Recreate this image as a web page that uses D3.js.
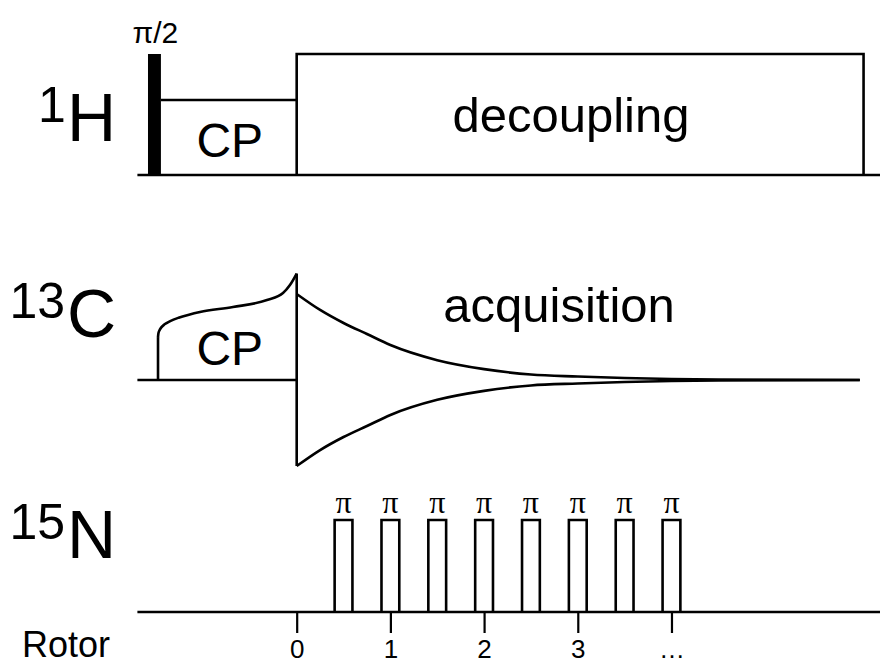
<!DOCTYPE html>
<html>
<head>
<meta charset="utf-8">
<script src="https://cdn.jsdelivr.net/npm/d3@7"></script>
<style>
  html, body { margin: 0; padding: 0; background: #fff; }
  svg { display: block; }
  text { font-family: "Liberation Sans", Arial, Helvetica, sans-serif; fill: #000; }
</style>
</head>
<body>
<svg id="seq" width="880" height="664"></svg>
<script>
// Time axis in rotor periods, RF amplitude in relative units (1 = full decoupling power)
const timeExtent = [-1.7, 6.25];
const rotorTicks = [0, 1, 2, 3, 4];
const rotorTickLabels = ["0", "1", "2", "3", "\u2026"];

// 1H channel: pi/2 excitation, CP spin lock, decoupling during acquisition
const hPulseSpan = [-1.587, -1.449];
const hPulseAmp = 1.0;
const hCPSpan = [-1.449, 0];
const hCPAmp = 0.62;
const hDecSpan = [0, 6.05];
const hDecAmp = 1.0;

// 13C channel: ramped CP contact, then FID envelope during acquisition
const cRampTimes = [-1.48, -1.476, -1.465, -1.445, -1.41, -1.35, -1.26, -1.15, -1.032, -0.68, -0.317, -0.146, -0.072, 0];
const cRampAmps  = [0.355, 0.385, 0.41, 0.435, 0.46, 0.487, 0.515, 0.54, 0.562, 0.603, 0.661, 0.719, 0.785, 0.88];
const fidTimes = [0, 0.25, 0.5, 0.75, 1, 1.5, 2, 2.5, 3, 3.5, 4, 4.5, 5, 6.01];
const fidAmps  = [0.711, 0.579, 0.471, 0.38, 0.289, 0.164, 0.09, 0.045, 0.029, 0.017, 0.008, 0.003, 0.001, 0];

// 15N channel: rotor-synchronised REDOR pi pulses
const nPulseCenters = [0.5, 1, 1.5, 2, 2.5, 3, 3.5, 4];
const nPulseWidth = 0.19;
const nPulseAmp = 0.76;

const svg = d3.select("#seq");
const x = d3.scaleLinear().domain(timeExtent).range([137.4, 882.3]);
const ampScale = d3.scaleLinear().domain([0, 1]).range([0, 121]);
const lw = 2.6;

function channelY(baseline) {
  return a => baseline - ampScale(a);
}

const ink = svg.append("g")
  .attr("fill", "none")
  .attr("stroke", "#000")
  .attr("stroke-width", lw)
  .attr("stroke-linejoin", "miter");

const poly = d3.line().x(d => x(d[0])).y(d => d[1]);
const smooth = d3.line().x(d => x(d[0])).y(d => d[1]).curve(d3.curveMonotoneX);

// ---------- 1H ----------
const hBase = 175, hy = channelY(hBase);
ink.append("path").attr("d", poly([[timeExtent[0], hy(0)], [timeExtent[1], hy(0)]]));
svg.append("rect")
  .attr("x", x(hPulseSpan[0])).attr("y", hy(hPulseAmp))
  .attr("width", x(hPulseSpan[1]) - x(hPulseSpan[0]))
  .attr("height", hy(0) - hy(hPulseAmp))
  .attr("fill", "#000");
ink.append("path").attr("d", poly([[hCPSpan[0], hy(hCPAmp)], [hCPSpan[1], hy(hCPAmp)]]));
ink.append("path").attr("d", poly([
  [hDecSpan[0], hy(0)], [hDecSpan[0], hy(hDecAmp)],
  [hDecSpan[1], hy(hDecAmp)], [hDecSpan[1], hy(0)]
]));

// ---------- 13C ----------
const cBase = 380, cy = channelY(cBase);
ink.append("path").attr("d", poly([[timeExtent[0], cy(0)], [0, cy(0)]]));
ink.append("path").attr("d", poly([[cRampTimes[0], cy(0)], [cRampTimes[0], cy(cRampAmps[0])]]));
ink.append("path").attr("d", smooth(cRampTimes.map((t, i) => [t, cy(cRampAmps[i])])));
ink.append("path").attr("d", poly([[0, cy(cRampAmps[cRampAmps.length - 1])], [0, cy(-fidAmps[0])]]));
ink.append("path").attr("d", smooth(fidTimes.map((t, i) => [t, cy(fidAmps[i])])));
ink.append("path").attr("d", smooth(fidTimes.map((t, i) => [t, cy(-fidAmps[i])])));

// ---------- 15N ----------
const nBase = 612, ny = channelY(nBase);
ink.append("path").attr("d", poly([[timeExtent[0], ny(0)], [timeExtent[1], ny(0)]]));
ink.selectAll("path.npulse").data(nPulseCenters).join("path")
  .attr("class", "npulse")
  .attr("d", c => poly([
    [c - nPulseWidth / 2, ny(0)], [c - nPulseWidth / 2, ny(nPulseAmp)],
    [c + nPulseWidth / 2, ny(nPulseAmp)], [c + nPulseWidth / 2, ny(0)]
  ]));
svg.selectAll("text.pi").data(nPulseCenters).join("text")
  .attr("class", "pi")
  .attr("x", c => x(c)).attr("y", 513)
  .attr("text-anchor", "middle")
  .style("font-family", "'Liberation Serif', 'Times New Roman', serif")
  .style("font-size", "32px")
  .text("\u03c0");

// Rotor period axis
const axis = d3.axisBottom(x).tickValues(rotorTicks)
  .tickFormat((d, i) => rotorTickLabels[i]).tickSize(21).tickPadding(7);
const axG = svg.append("g").attr("transform", `translate(0,${nBase})`).call(axis);
axG.select(".domain").remove();
axG.selectAll(".tick line").attr("stroke", "#000").attr("stroke-width", 2.2);
axG.selectAll(".tick text")
  .attr("fill", "#000")
  .style("font-family", "'Liberation Sans', Arial, sans-serif")
  .style("font-size", "26px");

// ---------- Labels ----------
function nucleus(mass, sym, baseline, massX) {
  svg.append("text").attr("x", massX).attr("y", baseline - 19)
    .style("font-size", "50px").text(mass);
  svg.append("text").attr("x", 67).attr("y", baseline)
    .style("font-size", "68px").text(sym);
}
nucleus("1", "H", 141, 38);
nucleus("13", "C", 337, 9.5);
nucleus("15", "N", 558, 9.5);

svg.append("text").attr("x", 22).attr("y", 657).style("font-size", "36px").text("Rotor");

const center = (t0, t1) => (x(t0) + x(t1)) / 2;
svg.append("text").attr("x", center(hPulseSpan[0], hPulseSpan[1]) + 1).attr("y", 43)
  .attr("text-anchor", "middle").style("font-size", "30px").text("\u03c0/2");
svg.append("text").attr("x", center(hCPSpan[0], hCPSpan[1]) + 1).attr("y", 157)
  .attr("text-anchor", "middle").style("font-size", "48px").text("CP");
svg.append("text").attr("x", center(hCPSpan[0], hCPSpan[1]) + 1).attr("y", 365)
  .attr("text-anchor", "middle").style("font-size", "48px").text("CP");
svg.append("text").attr("x", 571).attr("y", 132)
  .attr("text-anchor", "middle").style("font-size", "49px").text("decoupling");
svg.append("text").attr("x", 559).attr("y", 322)
  .attr("text-anchor", "middle").style("font-size", "49px").text("acquisition");
</script>
</body>
</html>
